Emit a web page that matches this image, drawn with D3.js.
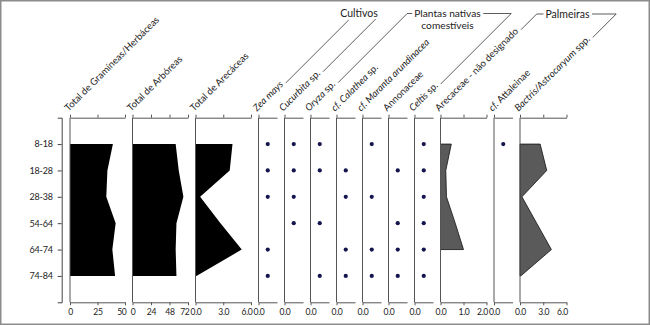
<!DOCTYPE html>
<html><head><meta charset="utf-8">
<script src="https://cdn.jsdelivr.net/npm/d3@7"></script>
<style>
body{margin:0;background:#fff}
svg{display:block}
text{font-family:Lato,"Open Sans",sans-serif;fill:#222}
</style>
</head><body><svg id="c" width="650" height="325"></svg>
<script>
// ---- data ----
const depths = ["8-18","18-28","28-38","54-64","64-74","74-84"];
const totalGramineas = [39,34,33,41.5,38.5,41];
const totalArboreas  = [56,60,66,57,56,57];
const totalArecaceas = [4.0,3.7,0.5,2.7,5.0,0.1];
const zeaMays    = [1,1,1,0,1,1];
const cucurbita  = [1,1,1,1,0,0];
const oryza      = [1,1,0,1,0,1];
const calathea   = [0,1,1,0,1,1];
const maranta    = [1,0,1,0,1,1];
const annonaceae = [0,1,0,1,1,1];
const celtis     = [1,1,1,1,1,1];
const arecaceaeND = [0.47,0.23,0.26,0.64,1.0,null];
const attaleinae = [1,0,0,0,0,0];
const bactris    = [2.6,3.45,0.25,2.15,4.05,0.1];
const ticksG = [0,25,50], ticksA = [0,24,48,72], ticks6 = [0,3,6], ticks2 = [0,1,2], ticksDot = [0];
const groupCultivos = "Cultivos";
const groupNativas = ["Plantas nativas","comestíveis"];
const groupPalmeiras = "Palmeiras";

// ---- layout ----
const svg = d3.select("#c");
const yTop = 117.7, yBot = 302.3;
const y = d3.scalePoint().domain(depths).range([yTop, yBot]).padding(1);

const panels = [
  {label:[["Total de Gramíneas/Herbáceas",0]], vals:totalGramineas, type:"area", dom:[0,50], ticks:ticksG, fmt:d3.format("d"), w:55, fill:"#000"},
  {label:[["Total de Arbóreas",0]], vals:totalArboreas, type:"area", dom:[0,72], ticks:ticksA, fmt:d3.format("d"), w:55.5, fill:"#000"},
  {label:[["Total de Arecáceas",0]], vals:totalArecaceas, type:"area", dom:[0,6], ticks:ticks6, fmt:d3.format(".1f"), w:55.5, fill:"#000"},
  {label:[["Zea mays",1]], vals:zeaMays, type:"dot", dom:[0,2], ticks:ticksDot, fmt:d3.format(".1f"), w:18.5},
  {label:[["Cucurbita",1],[" sp.",0]], vals:cucurbita, type:"dot", dom:[0,2], ticks:ticksDot, fmt:d3.format(".1f"), w:18.5},
  {label:[["Oryza",1],[" sp.",0]], vals:oryza, type:"dot", dom:[0,2], ticks:ticksDot, fmt:d3.format(".1f"), w:18.5},
  {label:[["cf. ",1],["Calathea",1],[" sp.",0]], vals:calathea, type:"dot", dom:[0,2], ticks:ticksDot, fmt:d3.format(".1f"), w:18.5},
  {label:[["cf. ",1],["Maranta arundinacea",1]], vals:maranta, type:"dot", dom:[0,2], ticks:ticksDot, fmt:d3.format(".1f"), w:18.5},
  {label:[["Annonaceae",0]], vals:annonaceae, type:"dot", dom:[0,2], ticks:ticksDot, fmt:d3.format(".1f"), w:18.5},
  {label:[["Celtis",1],[" sp.",0]], vals:celtis, type:"dot", dom:[0,2], ticks:ticksDot, fmt:d3.format(".1f"), w:18.5},
  {label:[["Arecaceae - não designado",0]], vals:arecaceaeND, type:"area", dom:[0,2], ticks:ticks2, fmt:d3.format(".1f"), w:46, fill:"#5a5a5a", stroke:"#111"},
  {label:[["cf. ",1],["Attaleinae",0]], vals:attaleinae, type:"dot", dom:[0,2], ticks:ticksDot, fmt:d3.format(".1f"), w:18.5},
  {label:[["Bactris/Astrocaryum",1],[" spp.",0]], vals:bactris, type:"area", dom:[0,6], ticks:ticks6, fmt:d3.format(".1f"), w:46.5, fill:"#5a5a5a", stroke:"#111"}
];

// frame
svg.append("rect").attr("x",0.75).attr("y",0.75).attr("width",648.5).attr("height",323.5)
  .attr("fill","none").attr("stroke","#8c8c8c").attr("stroke-width",1.5);

// y axis
const yAxisG = svg.append("g").attr("transform","translate(61.7,0)")
  .call(d3.axisLeft(y).tickSize(4).tickSizeOuter(4).tickPadding(5));
yAxisG.select(".domain").attr("stroke","#444");
yAxisG.selectAll(".tick line").attr("stroke","#444");
yAxisG.selectAll("text").style("font-size","9px").style("letter-spacing","-0.2px").attr("fill","#222");

let x0 = 70;
const gap = 7.5;
const labelEnds = [];
panels.forEach((p,i)=>{
  const x = d3.scaleLinear().domain(p.dom).range([x0, x0+p.w]);
  const g = svg.append("g");
  if(p.type==="area"){
    const area = d3.area()
      .defined(d=>d!=null)
      .x0(x(0)).x1(d=>x(d)).y((d,j)=>y(depths[j]));
    g.append("path").datum(p.vals).attr("d",area)
      .attr("fill",p.fill).attr("stroke",p.stroke||"none").attr("stroke-width",0.8);
  } else {
    g.selectAll("circle").data(p.vals.map((v,j)=>({v,d:depths[j]})).filter(o=>o.v))
      .join("circle").attr("cx",o=>x(o.v)).attr("cy",o=>y(o.d)).attr("r",2.1).attr("fill","#14144e");
  }
  // baseline
  g.append("line").attr("x1",x(0)).attr("x2",x(0)).attr("y1",yTop).attr("y2",yBot)
    .attr("stroke","#555").attr("stroke-width",1);
  // top axis
  const ta = svg.append("g").attr("transform",`translate(0,${yTop})`)
    .call(d3.axisTop(x).tickValues(p.ticks).tickSize(3).tickSizeOuter(0).tickFormat(""));
  ta.select(".domain").attr("stroke","#555");
  ta.selectAll(".tick line").attr("stroke","#555");
  // bottom axis
  const ba = svg.append("g").attr("transform",`translate(0,${yBot})`)
    .call(d3.axisBottom(x).tickValues(p.ticks).tickSize(3).tickSizeOuter(0).tickPadding(4).tickFormat(p.fmt));
  ba.select(".domain").attr("stroke","#555");
  ba.selectAll(".tick line").attr("stroke","#555");
  ba.selectAll("text").style("font-size","8.6px").style("letter-spacing","-0.35px").attr("fill","#222");
  if(p.ticks.length>1){
    ba.selectAll(".tick").filter((d,k,n)=>k===n.length-1).select("text")
      .attr("text-anchor","end").attr("x",1);
  }
  // rotated label
  const lx = x0-1.5, ly = yTop-6;
  const t = svg.append("text").attr("transform",`translate(${lx},${ly}) rotate(-45)`)
    .style("font-size","9.6px");
  p.label.forEach(([s,it])=>t.append("tspan").text(s).style("font-style",it?"italic":"normal"));
  const L = t.node().getComputedTextLength();
  const c = Math.SQRT1_2;
  labelEnds.push([lx + (L+3)*c, ly - (L+3)*c]);
  x0 += p.w + gap;
});

// group headers
const lineCol = "#333";
function hdr(txt, cx, by, fs){
  return svg.append("text").attr("x",cx).attr("y",by).attr("text-anchor","middle").style("font-size",(fs||10.5)+"px").text(txt);
}
function leader(start, topY, endX){
  const dx = start[1]-topY;
  const pts = [start, [start[0]+dx, topY]];
  if(endX!=null) pts.push([endX, topY]);
  svg.append("path").attr("d", d3.line()(pts)).attr("fill","none").attr("stroke",lineCol).attr("stroke-width",0.8);
}
const tc = hdr(groupCultivos, 359, 17);
leader(labelEnds[3], 20, null);
leader(labelEnds[4], 19, null);

const tn1 = hdr(groupNativas[0], 447.5, 16.5, 10.2);
hdr(groupNativas[1], 447.5, 28.5, 10.2);
const bn = tn1.node().getBBox();
leader(labelEnds[5], 13.5, bn.x-2);
leader(labelEnds[9], 13.5, bn.x+bn.width+2);

const tp = hdr(groupPalmeiras, 567.5, 17.5);
const bp = tp.node().getBBox();
leader(labelEnds[10], 14, bp.x-2);
leader(labelEnds[12], 14, bp.x+bp.width+2);
</script>
</body></html>
